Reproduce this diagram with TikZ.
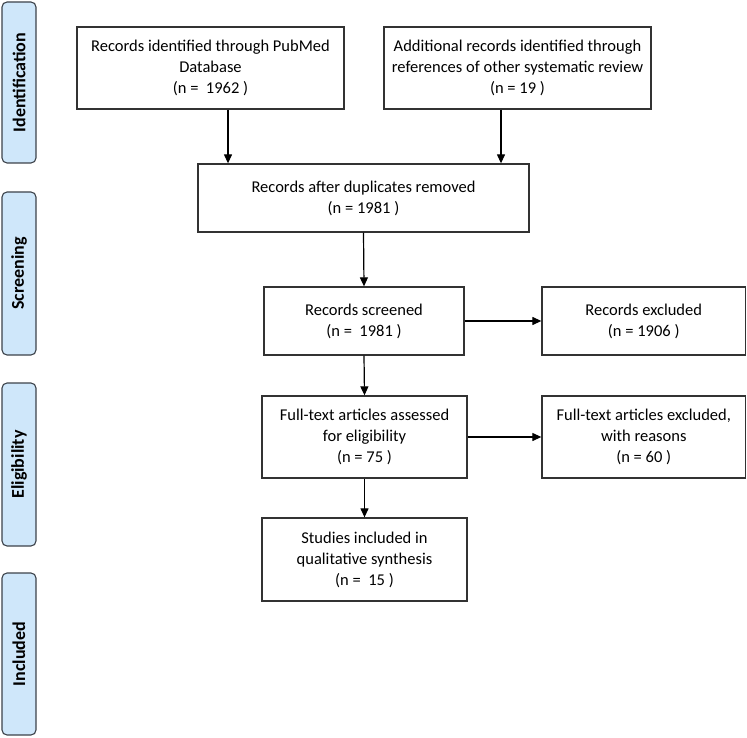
\documentclass[tikz,border=0pt]{standalone}
\usepackage{fontspec}
\setmainfont{Carlito}
\usetikzlibrary{arrows.meta}
\definecolor{sideblue}{RGB}{207,231,250}
\definecolor{sideline}{RGB}{60,66,74}
\definecolor{boxline}{RGB}{50,50,50}
\tikzstyle{stepbox} = [draw=boxline, line width=1.3pt, rectangle, align=center, inner sep=2pt, font=\fontsize{16.5}{21}\selectfont]
\tikzstyle{phase} = [draw=sideline, fill=sideblue, line width=1.1pt, rectangle, rounded corners=5pt, rotate=90, minimum height=34pt, font=\bfseries\fontsize{18}{21}\selectfont]
\tikzstyle{arr} = [line width=1.2pt, -{Triangle[length=9pt,width=8pt]}]

\begin{document}
\begin{tikzpicture}[x=1pt,y=-1pt]
		\useasboundingbox (0,0) rectangle (747,738);
		% phase labels on the left
		\node[phase, minimum width=161pt](ident) at (19,82.5) {Identification};
		\node[phase, minimum width=163pt](screen) at (19,273.5) {Screening};
		\node[phase, minimum width=163pt](elig) at (19,464.5) {Eligibility};
		\node[phase, minimum width=162pt](inclph) at (19,654) {Included};
		% flow boxes
		\node[stepbox, minimum width=267pt, minimum height=82pt](pubmed) at (210.5,68) {Records identified through PubMed\\Database\\(n =\ \ 1962 )};
		\node[stepbox, minimum width=267pt, minimum height=82pt](other) at (517.5,68) {Additional records identified through\\references of other systematic review\\(n = 19 )};
		\node[stepbox, minimum width=331pt, minimum height=68pt](dup) at (363.5,198) {Records after duplicates removed\\(n = 1981 )};
		\node[stepbox, minimum width=200pt, minimum height=68pt](screened) at (364,321) {Records screened\\(n =\ \ 1981 )};
		\node[stepbox, minimum width=203.5pt, minimum height=68pt](excl) at (643.75,321) {Records excluded\\(n = 1906 )};
		\node[stepbox, minimum width=205pt, minimum height=82pt](full) at (364.5,437) {Full-text articles assessed\\for eligibility\\(n = 75 )};
		\node[stepbox, minimum width=203.5pt, minimum height=82pt](fullexcl) at (643.75,437) {Full-text articles excluded,\\with reasons\\(n = 60 )};
		\node[stepbox, minimum width=205pt, minimum height=83pt](incl) at (364.5,559.5) {Studies included in\\qualitative synthesis\\(n =\ \ 15 )};
		% connectors
		\draw[arr] ([xshift=17.5pt]pubmed.south) -- ([xshift=17.5pt]pubmed.south |- dup.north);
		\draw[arr] ([xshift=-16.5pt]other.south) -- ([xshift=-16.5pt]other.south |- dup.north);
		\draw[arr] (dup.south) -- (screened.north);
		\draw[arr] (screened.east) -- (excl.west);
		\draw[arr] (screened.south) -- (full.north);
		\draw[arr] (full.east) -- (fullexcl.west);
		\draw[arr] (full.south) -- (incl.north);
	\end{tikzpicture}
\end{document}
